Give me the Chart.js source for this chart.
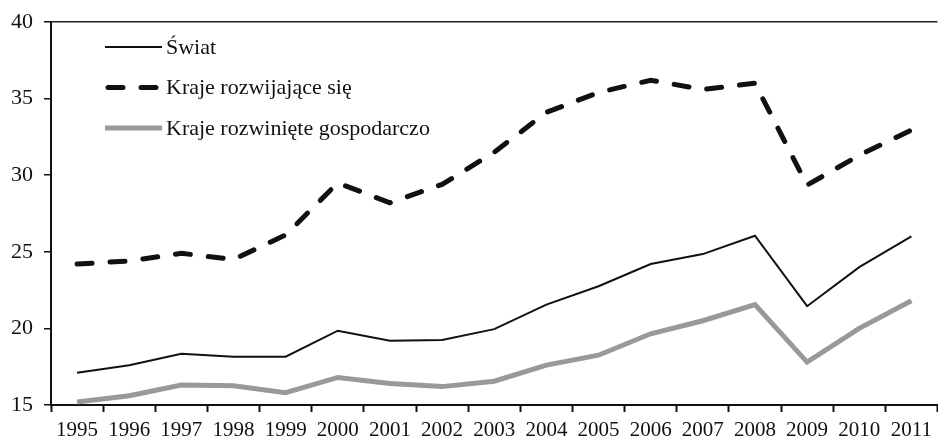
<!DOCTYPE html>
<html>
<head>
<meta charset="utf-8">
<script src="https://cdn.jsdelivr.net/npm/chart.js@4.4.1/dist/chart.umd.min.js"></script>
<style>
  html, body { margin: 0; padding: 0; background: #fff; }
  #wrap { width: 938px; height: 439px; }
</style>
</head>
<body>
<div id="wrap"><canvas id="chart"></canvas></div>
<script>
const years = ['1995','1996','1997','1998','1999','2000','2001','2002','2003','2004','2005','2006','2007','2008','2009','2010','2011'];
const swiat = [17.1, 17.6, 18.35, 18.15, 18.15, 19.85, 19.2, 19.25, 19.95, 21.55, 22.75, 24.2, 24.85, 26.05, 21.45, 24.0, 26.0];
const rozwijajace = [24.2, 24.4, 24.9, 24.5, 26.1, 29.5, 28.2, 29.4, 31.5, 34.1, 35.4, 36.2, 35.6, 36.0, 29.35, 31.3, 32.95];
const rozwiniete = [15.2, 15.6, 16.3, 16.25, 15.8, 16.8, 16.4, 16.2, 16.55, 17.6, 18.25, 19.65, 20.5, 21.55, 17.8, 20.0, 21.8];
const yTicks = [15, 20, 25, 30, 35, 40];

const FONT = "'Liberation Serif', 'Times New Roman', serif";

// legend drawn inside the plot, top-left, as in the original
const insideLegend = {
  id: 'insideLegend',
  afterDatasetsDraw(chart) {
    const ctx = chart.ctx;
    const area = chart.chartArea;
    const x0 = area.left + 54, len = 57, rowH = 40.5;
    chart.data.datasets.forEach((ds, i) => {
      const y = area.top + 25 + i * rowH;
      ctx.save();
      ctx.strokeStyle = ds.borderColor;
      ctx.lineWidth = ds.borderWidth;
      ctx.lineCap = ds.borderCapStyle || 'butt';
      ctx.setLineDash(ds.borderDash || []);
      ctx.beginPath();
      ctx.moveTo(x0 + (ds.borderDash ? 3 : 0), y);
      ctx.lineTo(x0 + len - (ds.borderDash ? 3 : 0), y);
      ctx.stroke();
      ctx.restore();
      ctx.save();
      ctx.fillStyle = '#111';
      ctx.font = '22px ' + FONT;
      ctx.textBaseline = 'middle';
      ctx.fillText(ds.label, x0 + len + 4, y + 1);
      ctx.restore();
    });
  }
};

new Chart(document.getElementById('chart'), {
  type: 'line',
  data: {
    labels: years,
    datasets: [
      { label: 'Świat', data: swiat, borderColor: '#111', borderWidth: 2, pointRadius: 0, tension: 0, borderJoinStyle: 'miter' },
      { label: 'Kraje rozwijające się', data: rozwijajace, borderColor: '#111', borderWidth: 5, borderDash: [15, 18], borderCapStyle: 'round', pointRadius: 0, tension: 0 },
      { label: 'Kraje rozwinięte gospodarczo', data: rozwiniete, borderColor: '#999999', borderWidth: 5, pointRadius: 0, tension: 0 }
    ]
  },
  options: {
    responsive: true,
    maintainAspectRatio: false,
    animation: false,
    layout: { padding: { top: 21, right: 0, left: 0, bottom: 0 } },
    plugins: { legend: { display: false }, tooltip: { enabled: false } },
    scales: {
      x: {
        offset: true,
        grid: { display: true, drawOnChartArea: false, offset: true, tickLength: 7, tickColor: '#111', tickWidth: 2 },
        border: { display: true, color: '#111', width: 2 },
        ticks: { color: '#111', font: { family: FONT, size: 21 }, padding: 6, maxRotation: 0, autoSkip: false },
        afterFit(scale) { scale.height = 34; }
      },
      y: {
        min: 15,
        max: 40,
        afterBuildTicks(scale) { scale.ticks = yTicks.map(v => ({ value: v })); },
        grid: {
          color: c => (c.tick && c.tick.value === 40 ? '#222' : 'rgba(0,0,0,0)'),
          lineWidth: 1.5,
          tickLength: 7,
          tickColor: '#111',
          tickWidth: 1.5
        },
        border: { display: true, color: '#111', width: 2 },
        ticks: { color: '#111', font: { family: FONT, size: 22, lineHeight: 1 }, padding: 11 },
        afterFit(scale) { scale.width = 51; }
      }
    }
  },
  plugins: [insideLegend]
});
</script>
</body>
</html>
